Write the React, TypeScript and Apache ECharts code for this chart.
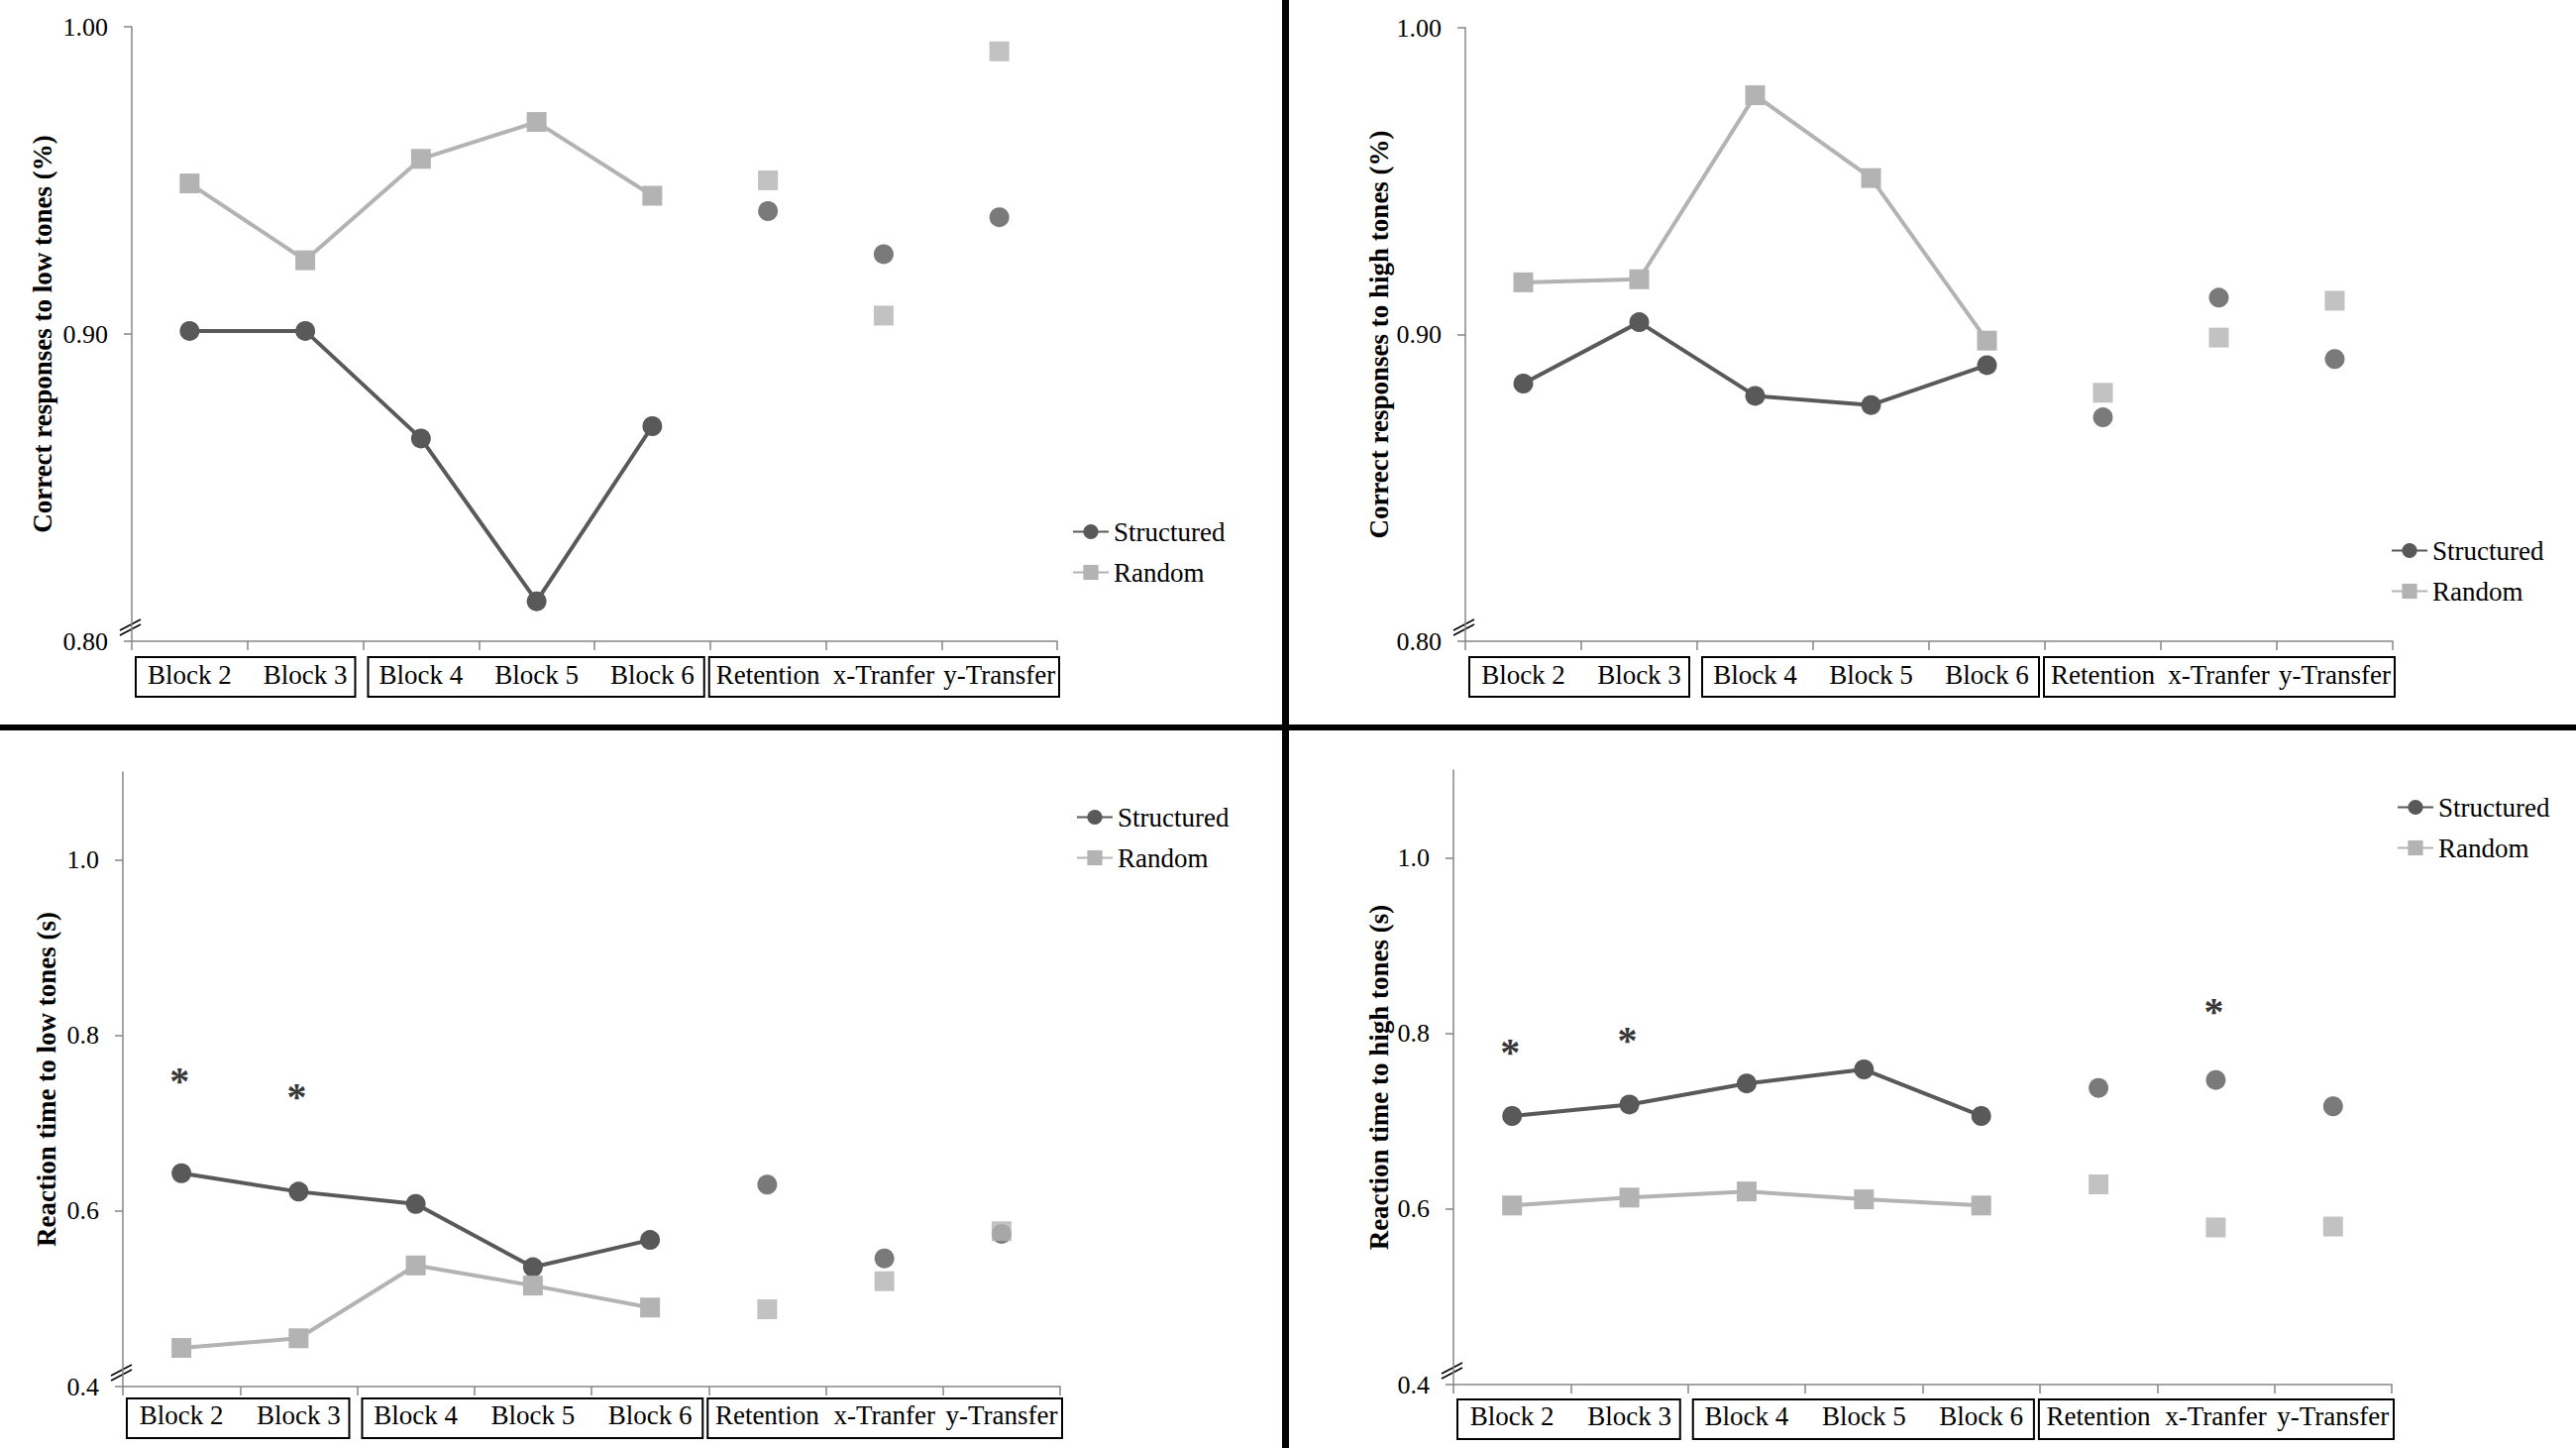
import React, { useEffect, useRef } from "react";
import * as echarts from "echarts";

// ---------- data ----------
const categories = ["Block 2", "Block 3", "Block 4", "Block 5", "Block 6", "Retention", "x-Tranfer", "y-Transfer"];
const seriesNames = ["Structured", "Random"];

const lowAccStructured = [0.901, 0.901, 0.866, 0.813, 0.870, 0.940, 0.926, 0.938];
const lowAccRandom = [0.949, 0.924, 0.957, 0.969, 0.945, 0.950, 0.906, 0.992];
const highAccStructured = [0.884, 0.904, 0.880, 0.877, 0.890, 0.873, 0.912, 0.892];
const highAccRandom = [0.917, 0.918, 0.978, 0.951, 0.898, 0.881, 0.899, 0.911];
const lowRtStructured = [0.643, 0.622, 0.608, 0.536, 0.567, 0.630, 0.546, 0.574];
const lowRtRandom = [0.444, 0.455, 0.538, 0.515, 0.490, 0.488, 0.520, 0.577];
const highRtStructured = [0.706, 0.719, 0.743, 0.759, 0.706, 0.738, 0.747, 0.717];
const highRtRandom = [0.604, 0.613, 0.620, 0.611, 0.604, 0.628, 0.579, 0.580];

const lowRtStars = [[0, 0.759], [1, 0.740]];
const highRtStars = [[0, 0.789], [1, 0.802], [6, 0.835]];

const accTicks = [0.8, 0.9, 1.0];
const rtTicks = [0.4, 0.6, 0.8, 1.0];

const connectedCount = 5; // blocks joined by a line
const groupRanges = [[0, 2], [2, 5], [5, 8]]; // category groups boxed under axis

// ---------- styles / layout ----------
const FONT = "Liberation Serif";
const DARK = "#595959";
const LIGHT = "#b3b3b3";
const AXIS = "#868686";

const panels = [
  {
    left: 133, top: 27, width: 934, height: 620,
    min: 0.8, max: 1.0, interval: 0.1, ticks: accTicks, decimals: 2,
    name: "Correct responses to low tones (%)", nameGap: 77,
    s: lowAccStructured, r: lowAccRandom, stars: [] as number[][],
    legendLeft: 1082, legendTop: 523, labelMargin: 20, boxTop: 16,
  },
  {
    left: 1479, top: 28, width: 936, height: 619,
    min: 0.8, max: 1.0, interval: 0.1, ticks: accTicks, decimals: 2,
    name: "Correct responses to high tones (%)", nameGap: 74,
    s: highAccStructured, r: highAccRandom, stars: [] as number[][],
    legendLeft: 2413, legendTop: 542, labelMargin: 20, boxTop: 16,
  },
  {
    left: 124, top: 779, width: 946, height: 620,
    min: 0.4, max: 1.1, interval: 0.1, ticks: rtTicks, decimals: 1,
    name: "Reaction time to low tones (s)", nameGap: 64,
    s: lowRtStructured, r: lowRtRandom, stars: lowRtStars,
    legendLeft: 1086, legendTop: 811, labelMargin: 15, boxTop: 12,
  },
  {
    left: 1467, top: 777, width: 947, height: 620,
    min: 0.4, max: 1.1, interval: 0.1, ticks: rtTicks, decimals: 1,
    name: "Reaction time to high tones (s)", nameGap: 62,
    s: highRtStructured, r: highRtRandom, stars: highRtStars,
    legendLeft: 2419, legendTop: 801, labelMargin: 18, boxTop: 15,
  },
];

const boxPad = [[4, -8], [5, -6], [-1, 2]];

function buildOption() {
  const grid: any[] = [];
  const xAxis: any[] = [];
  const yAxis: any[] = [];
  const series: any[] = [];
  const legend: any[] = [];
  const graphic: any[] = [];

  panels.forEach((p, i) => {
    grid.push({ left: p.left, top: p.top, width: p.width, height: p.height, containLabel: false });
    xAxis.push({
      type: "category",
      gridIndex: i,
      data: categories,
      boundaryGap: true,
      axisLine: { lineStyle: { color: AXIS, width: 1.5 } },
      axisTick: { show: true, length: 9, lineStyle: { color: AXIS, width: 1.5 } },
      axisLabel: {
        interval: 0,
        margin: p.labelMargin,
        fontFamily: FONT,
        fontSize: 27,
        lineHeight: 27,
        color: "#000",
      },
      splitLine: { show: false },
    });
    yAxis.push({
      type: "value",
      gridIndex: i,
      min: p.min,
      max: p.max,
      interval: p.interval,
      name: p.name,
      nameLocation: "middle",
      nameGap: p.nameGap,
      nameTextStyle: { fontFamily: FONT, fontSize: 27, fontWeight: "bold", color: "#000", lineHeight: 27 },
      axisLine: { show: true, lineStyle: { color: AXIS, width: 1.5 } },
      axisTick: { show: true, length: 8, customValues: p.ticks, lineStyle: { color: AXIS, width: 1.5 } },
      axisLabel: {
        customValues: p.ticks,
        margin: 24,
        fontFamily: FONT,
        fontSize: 26,
        color: "#000",
        formatter: (v: number) => v.toFixed(p.decimals),
      },
      splitLine: { show: false },
    });

    const lineData = (vals: number[]) => vals.map((v, k) => (k < connectedCount ? v : "-"));
    const dotData = (vals: number[]) => vals.map((v, k) => (k >= connectedCount ? v : "-"));

    series.push({
      name: seriesNames[0], type: "line", xAxisIndex: i, yAxisIndex: i,
      data: lineData(p.s), symbol: "circle", symbolSize: 20,
      lineStyle: { color: DARK, width: 4 }, itemStyle: { color: DARK }, z: 2,
    });
    series.push({
      name: seriesNames[0], type: "scatter", xAxisIndex: i, yAxisIndex: i,
      data: dotData(p.s), symbol: "circle", symbolSize: 20,
      itemStyle: { color: DARK }, z: 2,
    });
    series.push({
      name: seriesNames[1], type: "line", xAxisIndex: i, yAxisIndex: i,
      data: lineData(p.r), symbol: "rect", symbolSize: 20,
      lineStyle: { color: LIGHT, width: 4 }, itemStyle: { color: LIGHT }, z: 3,
    });
    series.push({
      name: seriesNames[1], type: "scatter", xAxisIndex: i, yAxisIndex: i,
      data: dotData(p.r), symbol: "rect", symbolSize: 20,
      itemStyle: { color: LIGHT }, z: 3,
    });
    if (p.stars.length) {
      series.push({
        name: "sig", type: "scatter", xAxisIndex: i, yAxisIndex: i,
        data: p.stars, symbolSize: 0.01, silent: true, z: 4,
        label: {
          show: true, position: "inside", formatter: "*", offset: [-2, 9],
          fontFamily: FONT, fontSize: 40, fontWeight: "bold", color: "#000",
        },
      });
    }

    legend.push({
      data: seriesNames,
      orient: "vertical",
      left: p.legendLeft,
      top: p.legendTop,
      padding: 0,
      itemGap: 14,
      itemWidth: 36,
      itemHeight: 19,
      selectedMode: false,
      textStyle: { fontFamily: FONT, fontSize: 27, color: "#000", lineHeight: 27 },
    });

    // group boxes under the axis
    const cw = p.width / categories.length;
    groupRanges.forEach((g, gi) => {
      const x0 = p.left + g[0] * cw + boxPad[gi][0];
      const x1 = p.left + g[1] * cw + boxPad[gi][1];
      graphic.push({
        type: "rect",
        shape: { x: x0, y: p.top + p.height + p.boxTop, width: x1 - x0, height: 40 },
        style: { fill: "none", stroke: "#000", lineWidth: 2 },
        silent: true,
      });
    });
    // axis break mark
    const bx = p.left;
    const by = p.top + p.height;
    graphic.push({
      type: "line",
      shape: { x1: bx - 12, y1: by - 6, x2: bx + 9, y2: by - 17 },
      style: { stroke: "#000", lineWidth: 1.5 },
      silent: true,
    });
    graphic.push({
      type: "line",
      shape: { x1: bx - 12, y1: by - 11, x2: bx + 9, y2: by - 22 },
      style: { stroke: "#000", lineWidth: 1.5 },
      silent: true,
    });
  });

  // quadrant dividers
  graphic.push({ type: "rect", shape: { x: 1294, y: 0, width: 7, height: 1461 }, style: { fill: "#000" }, silent: true });
  graphic.push({ type: "rect", shape: { x: 0, y: 731, width: 2600, height: 6 }, style: { fill: "#000" }, silent: true });

  return {
    animation: false,
    backgroundColor: "#fff",
    textStyle: { fontFamily: FONT },
    grid, xAxis, yAxis, series, legend, graphic,
  };
}

export default function App() {
  const ref = useRef<HTMLDivElement>(null);
  useEffect(() => {
    if (!ref.current) return;
    const chart = echarts.init(ref.current, undefined, { renderer: "svg" });
    chart.setOption(buildOption() as any);
    return () => chart.dispose();
  }, []);
  return (
    <div
      ref={ref}
      style={{ position: "fixed", left: 0, top: 0, width: 2600, height: 1461, background: "#fff" }}
    />
  );
}
